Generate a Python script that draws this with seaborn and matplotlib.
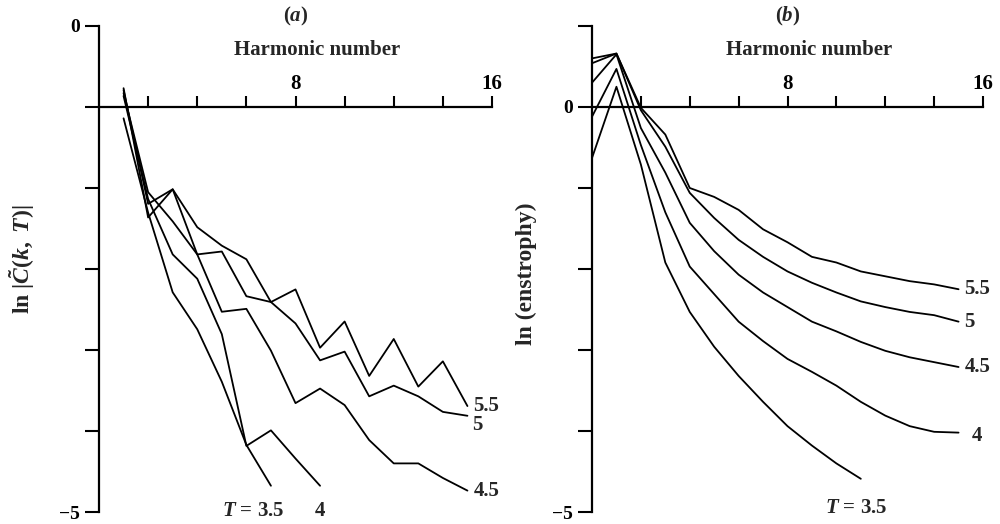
import matplotlib
matplotlib.use("Agg")
import matplotlib.pyplot as plt
import numpy as np
import pandas as pd
import seaborn as sns

# ---------------- data ----------------
# Panel (a): ln|C~(k,T)| against harmonic number k
k_a = list(range(1, 16))
a_T55 = [-0.64, -1.97, -1.68, -2.07, -2.26, -2.40, -2.84, -2.71, -3.31, -3.04, -3.60, -3.22, -3.71, -3.45, -3.91]
a_T5 = [-0.66, -1.83, -1.68, -2.35, -2.32, -2.78, -2.84, -3.06, -3.44, -3.35, -3.81, -3.70, -3.81, -3.97, -4.01]
a_T45 = [-0.69, -1.71, -2.01, -2.35, -2.94, -2.91, -3.34, -3.88, -3.73, -3.90, -4.26, -4.50, -4.50, -4.65, -4.78]
a_T4 = [-0.72, -1.78, -2.35, -2.60, -3.17, -4.32, -4.16, -4.45, -4.73]
a_T35 = [-0.95, -1.92, -2.74, -3.12, -3.66, -4.31, -4.73]

# Panel (b): ln(enstrophy) against harmonic number k
k_b = list(range(0, 16))
b_T55 = [0.60, 0.66, -0.01, -0.34, -1.00, -1.11, -1.27, -1.51, -1.67, -1.85, -1.92, -2.03, -2.09, -2.15, -2.19, -2.25]
b_T5 = [0.54, 0.66, -0.04, -0.49, -1.06, -1.37, -1.64, -1.85, -2.03, -2.17, -2.29, -2.40, -2.47, -2.53, -2.57, -2.65]
b_T45 = [0.30, 0.65, -0.26, -0.81, -1.43, -1.78, -2.07, -2.29, -2.47, -2.65, -2.77, -2.90, -3.01, -3.09, -3.15, -3.21]
b_T4 = [-0.12, 0.47, -0.47, -1.30, -1.97, -2.31, -2.65, -2.89, -3.11, -3.27, -3.44, -3.64, -3.81, -3.94, -4.01, -4.02]
b_T35 = [-0.63, 0.25, -0.71, -1.92, -2.53, -2.96, -3.32, -3.64, -3.94, -4.18, -4.40, -4.59]

T_labels = ["5.5", "5", "4.5", "4", "T = 3.5"]
series_a = [a_T55, a_T5, a_T45, a_T4, a_T35]
series_b = [b_T55, b_T5, b_T45, b_T4, b_T35]

x_ticks = [2, 4, 6, 8, 10, 12, 14, 16]
x_ticklabels = ["", "", "", "8", "", "", "", "16"]

# label offsets (pixels) from the last point of each curve
offs_a = [(6, 0, "left"), (5, -9, "left"), (6, 0, "left"), (0, -25, "center"), (-18, -25, "center")]
offs_b = [(6, 0, "left"), (6, 0, "left"), (6, 0, "left"), (13, -3, "left"), (-5, -29, "center")]


def long_frame(ks, series):
    rows = []
    for lab, vals in zip(T_labels, series):
        for kk, v in zip(ks, vals):
            rows.append({"k": kk, "v": v, "T": lab})
    return pd.DataFrame(rows)


# ---------------- style ----------------
sns.set_style("ticks")
plt.rcParams["font.family"] = ["Liberation Serif", "DejaVu Serif"]
plt.rcParams["font.weight"] = "bold"
plt.rcParams["mathtext.fontset"] = "custom"
plt.rcParams["mathtext.rm"] = "Liberation Serif:bold"
plt.rcParams["mathtext.it"] = "Liberation Serif:italic:bold"
plt.rcParams["mathtext.bf"] = "Liberation Serif:bold"

FS = 15
fig = plt.figure(figsize=(10, 5.24), dpi=100)
axA = fig.add_axes([0.099, 0.0229, 0.393, 0.9275])
axB = fig.add_axes([0.592, 0.0229, 0.391, 0.9275])

panels = [
    (axA, k_a, series_a, offs_a, (-5, 0), np.linspace(0, -5, 7), -5 / 6, 0,
     r"ln $|\tilde{C}(k,\ T)|$", "($a$)", -0.158, 0.52),
    (axB, k_b, series_b, offs_b, (-5, 1), np.arange(1, -6, -1), 0, 1,
     "ln (enstrophy)", "($b$)", -0.141, 0.49),
]

for ax, ks, series, offs, ylim, yt, xaxis_y, zero_idx, ylab, title, ylx, yly in panels:
    df = long_frame(ks, series)
    sns.lineplot(data=df, x="k", y="v", hue="T", units="T", estimator=None,
                 palette={t: "black" for t in T_labels}, legend=False,
                 linewidth=1.3, ax=ax, sort=False)
    ax.set_xlim(0, 16)
    ax.set_ylim(*ylim)

    for sp in ["right", "bottom"]:
        ax.spines[sp].set_visible(False)
    for sp in ["left", "top"]:
        ax.spines[sp].set_visible(True)
        ax.spines[sp].set_color("black")
        ax.spines[sp].set_linewidth(1.6)
    ax.spines["top"].set_position(("data", xaxis_y))

    ax.xaxis.tick_top()
    ax.set_xticks(x_ticks)
    ax.set_xticklabels(x_ticklabels)
    ax.tick_params(axis="x", which="major", top=True, bottom=False,
                   labeltop=True, labelbottom=False,
                   direction="out", length=8, width=1.5, labelsize=FS,
                   pad=1, colors="black")

    ax.set_yticks(yt)
    ylabels = [""] * len(yt)
    ylabels[zero_idx] = "0"
    ylabels[-1] = "\u22125"
    ax.set_yticklabels(ylabels)
    ax.tick_params(axis="y", which="major", left=True, right=False,
                   direction="out", length=10, width=1.5, labelsize=14,
                   pad=4, colors="black")

    ax.xaxis.set_label_position("top")
    ax.set_xlabel("Harmonic number", fontsize=FS, fontweight="bold")
    ax.xaxis.set_label_coords(0.556, 0.94)
    ax.set_ylabel(ylab, fontsize=17, fontweight="bold")
    ax.yaxis.set_label_coords(ylx, yly)
    ax.set_title(title, fontsize=FS, fontweight="bold", y=1.0, pad=3)

    for lab, vals, (dx, dy, ha) in zip(T_labels, series, offs):
        txt = r"$T$ = 3.5" if lab.startswith("T") else lab
        ax.annotate(txt, xy=(ks[len(vals) - 1], vals[-1]), xytext=(dx, dy),
                    textcoords="offset pixels", ha=ha, va="center",
                    fontsize=FS, fontweight="bold", annotation_clip=False)
    ax.grid(False)
    ax.set_facecolor("white")

fig.savefig("out.png", dpi=100, facecolor="white")
